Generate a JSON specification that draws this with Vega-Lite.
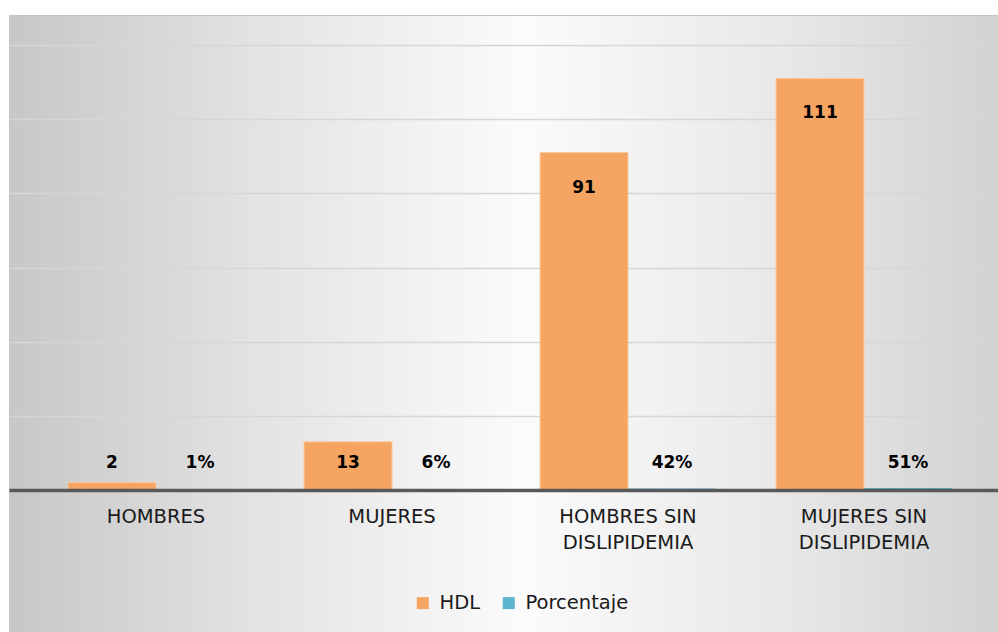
{
  "$schema": "https://vega.github.io/schema/vega-lite/v6.json",
  "width": 989,
  "height": 617,
  "autosize": {"type": "none"},
  "padding": {"top": 15, "left": 9, "right": 0, "bottom": 0},
  "background": "#ffffff",
  "config": {
    "font": "DejaVu Sans",
    "view": {
      "stroke": "#c4c4c4",
      "strokeWidth": 1,
      "fill": {
        "gradient": "linear",
        "x1": 0, "y1": 0.5, "x2": 1, "y2": 0.5,
        "stops": [
          {"offset": 0, "color": "#c7c7c7"},
          {"offset": 0.25, "color": "#e3e3e3"},
          {"offset": 0.52, "color": "#fbfbfb"},
          {"offset": 0.78, "color": "#e8e8e8"},
          {"offset": 1, "color": "#d2d2d2"}
        ]
      }
    }
  },
  "data": {
    "values": [
      {"categoria": "HOMBRES", "serie": "HDL", "valor": 2},
      {"categoria": "HOMBRES", "serie": "Porcentaje", "valor": 0.01},
      {"categoria": "MUJERES", "serie": "HDL", "valor": 13},
      {"categoria": "MUJERES", "serie": "Porcentaje", "valor": 0.06},
      {"categoria": "HOMBRES SIN DISLIPIDEMIA", "serie": "HDL", "valor": 91},
      {"categoria": "HOMBRES SIN DISLIPIDEMIA", "serie": "Porcentaje", "valor": 0.42},
      {"categoria": "MUJERES SIN DISLIPIDEMIA", "serie": "HDL", "valor": 111},
      {"categoria": "MUJERES SIN DISLIPIDEMIA", "serie": "Porcentaje", "valor": 0.51}
    ]
  },
  "encoding": {
    "x": {
      "field": "categoria",
      "type": "nominal",
      "sort": null,
      "scale": {"paddingInner": 0.2542, "paddingOuter": 0.2225, "align": 0.562},
      "axis": {
        "title": null,
        "orient": "bottom",
        "offset": -142,
        "zindex": 1,
        "labelAngle": 0,
        "ticks": false,
        "domainColor": "#595959",
        "domainWidth": 3.5,
        "labelFont": "DejaVu Sans",
        "labelFontSize": 19.5,
        "labelColor": "#1a1a1a",
        "labelPadding": 17,
        "labelLineHeight": 26,
        "labelExpr": "indexof(datum.label, ' DISLIPIDEMIA') > 0 ? [replace(datum.label, ' DISLIPIDEMIA', ''), 'DISLIPIDEMIA'] : datum.label"
      }
    },
    "xOffset": {
      "field": "serie",
      "type": "nominal",
      "scale": {"domain": ["HDL", "Porcentaje"], "paddingInner": 0, "paddingOuter": 0}
    }
  },
  "layer": [
    {
      "mark": {"type": "bar", "strokeWidth": 1},
      "encoding": {
        "y": {
          "field": "valor",
          "type": "quantitative",
          "scale": {"domain": [-38.29, 128.09], "nice": false, "zero": false},
          "axis": {
            "title": null,
            "values": [20, 40, 60, 80, 100, 120],
            "labels": false,
            "ticks": false,
            "domain": false,
            "grid": true,
            "gridColor": "#d6d6d6",
            "gridWidth": 1.5
          }
        },
        "y2": {"datum": 0},
        "stroke": {
          "condition": {"test": "datum.serie == 'HDL'", "value": "#f9cba3"},
          "value": null
        },
        "color": {
          "field": "serie",
          "type": "nominal",
          "scale": {"domain": ["HDL", "Porcentaje"], "range": ["#f5a462", "#5bb5cf"]},
          "legend": {
            "title": null,
            "orient": "none",
            "direction": "horizontal",
            "legendX": 404,
            "legendY": 578,
            "symbolType": "square",
            "symbolSize": 144,
            "symbolStrokeWidth": 0,
            "labelFont": "DejaVu Sans",
            "labelFontSize": 19.5,
            "labelColor": "#1a1a1a",
            "labelOffset": 7,
            "columnPadding": 18
          }
        }
      }
    },
    {
      "transform": [{"filter": "datum.serie == 'HDL' && datum.valor >= 20"}],
      "mark": {"type": "text", "dy": 35, "fontWeight": "bold", "fontSize": 17, "color": "#000000", "baseline": "middle"},
      "encoding": {
        "y": {"field": "valor", "type": "quantitative"},
        "text": {"field": "valor", "type": "quantitative", "format": "d"}
      }
    },
    {
      "transform": [{"filter": "datum.serie == 'HDL' && datum.valor < 20"}],
      "mark": {"type": "text", "dy": -27, "fontWeight": "bold", "fontSize": 17, "color": "#000000", "baseline": "middle"},
      "encoding": {
        "y": {"datum": 0},
        "text": {"field": "valor", "type": "quantitative", "format": "d"}
      }
    },
    {
      "transform": [{"filter": "datum.serie == 'Porcentaje'"}],
      "mark": {"type": "text", "dy": -27, "fontWeight": "bold", "fontSize": 17, "color": "#000000", "baseline": "middle"},
      "encoding": {
        "y": {"datum": 0},
        "text": {"field": "valor", "type": "quantitative", "format": ".0%"}
      }
    }
  ]
}
